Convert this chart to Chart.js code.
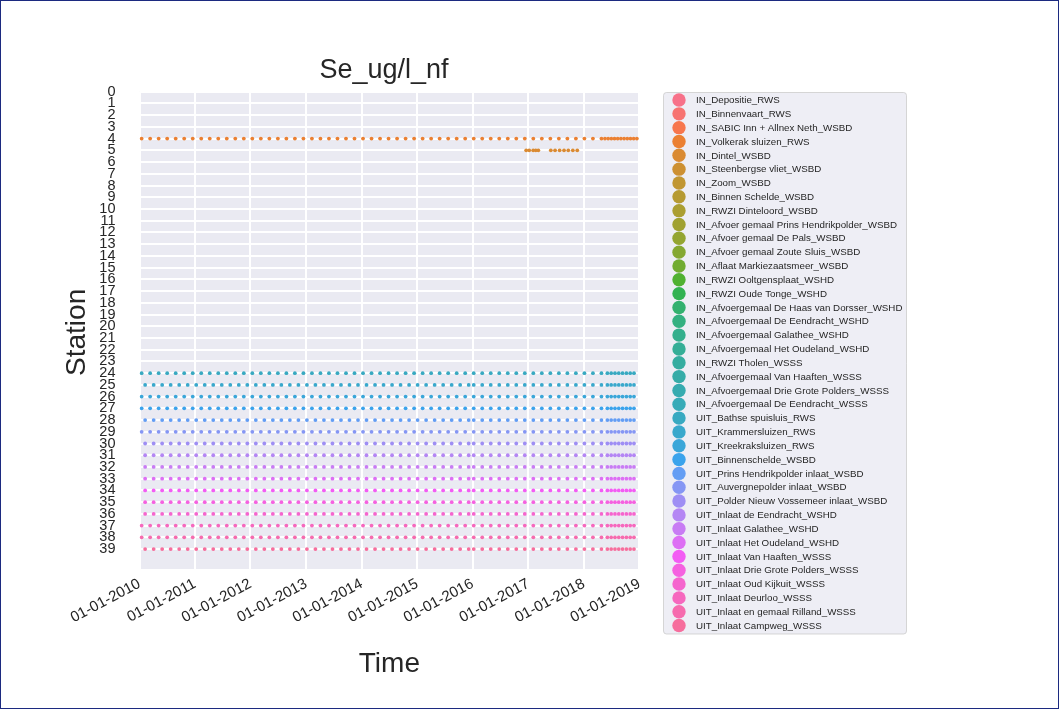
<!DOCTYPE html>
<html><head><meta charset="utf-8">
<script src="https://cdn.jsdelivr.net/npm/chart.js@4.4.1/dist/chart.umd.min.js"></script>
<style>html,body{margin:0;padding:0;background:#fff;}canvas{display:block;}</style>
</head><body>
<canvas id="c" width="1059" height="709"></canvas>
<script>
const chartTitle = 'Se_ug/l_nf';
const xAxisTitle = 'Time';
const yAxisTitle = 'Station';

const stationNames = [
  'IN_Depositie_RWS','IN_Binnenvaart_RWS','IN_SABIC Inn + Allnex Neth_WSBD','IN_Volkerak sluizen_RWS',
  'IN_Dintel_WSBD','IN_Steenbergse vliet_WSBD','IN_Zoom_WSBD','IN_Binnen Schelde_WSBD','IN_RWZI Dinteloord_WSBD',
  'IN_Afvoer gemaal Prins Hendrikpolder_WSBD','IN_Afvoer gemaal De Pals_WSBD','IN_Afvoer gemaal Zoute Sluis_WSBD',
  'IN_Aflaat Markiezaatsmeer_WSBD','IN_RWZI Ooltgensplaat_WSHD','IN_RWZI Oude Tonge_WSHD',
  'IN_Afvoergemaal De Haas van Dorsser_WSHD','IN_Afvoergemaal De Eendracht_WSHD','IN_Afvoergemaal Galathee_WSHD',
  'IN_Afvoergemaal Het Oudeland_WSHD','IN_RWZI Tholen_WSSS','IN_Afvoergemaal Van Haaften_WSSS',
  'IN_Afvoergemaal Drie Grote Polders_WSSS','IN_Afvoergemaal De Eendracht_WSSS','UIT_Bathse spuisluis_RWS',
  'UIT_Krammersluizen_RWS','UIT_Kreekraksluizen_RWS','UIT_Binnenschelde_WSBD','UIT_Prins Hendrikpolder inlaat_WSBD',
  'UIT_Auvergnepolder inlaat_WSBD','UIT_Polder Nieuw Vossemeer inlaat_WSBD','UIT_Inlaat de Eendracht_WSHD',
  'UIT_Inlaat Galathee_WSHD','UIT_Inlaat Het Oudeland_WSHD','UIT_Inlaat Van Haaften_WSSS',
  'UIT_Inlaat Drie Grote Polders_WSSS','UIT_Inlaat Oud Kijkuit_WSSS','UIT_Inlaat Deurloo_WSSS',
  'UIT_Inlaat en gemaal Rilland_WSSS','UIT_Inlaat Campweg_WSSS'
];
// y position (station number) of each named station
const stationNumbers = [1,2,3,4,5,6,7,8,9,10,11,12,13,14,15,16,17,18,19,20,21,22,23,24,25,26,27,28,29,30,31,32,33,34,35,36,37,38,39];

const yTickLabels = ['0','1','2','3','4','5','6','7','8','9','10','11','12','13','14','15','16','17','18','19',
  '20','21','22','23','24','25','26','27','28','29','30','31','32','33','34','35','36','37','38','39'];
const xTickDates = ['2010-01-01','2011-01-01','2012-01-01','2013-01-01','2014-01-01','2015-01-01',
  '2016-01-01','2017-01-01','2018-01-01','2019-01-01'];

// sampling dates
const datesA_2010_2015 = ['2010-01-15','2010-03-12','2010-05-07','2010-07-02','2010-08-27','2010-10-22','2010-12-17',
  '2011-02-11','2011-04-08','2011-06-03','2011-07-29','2011-09-23','2011-11-18','2012-01-13','2012-03-09',
  '2012-05-04','2012-06-29','2012-08-24','2012-10-19','2012-12-14','2013-02-08','2013-04-05','2013-05-31',
  '2013-07-26','2013-09-20','2013-11-15','2014-01-10','2014-03-07','2014-05-02','2014-06-27','2014-08-22',
  '2014-10-17','2014-12-12','2015-02-06','2015-04-03','2015-05-29','2015-07-24','2015-09-18','2015-11-13'];
const datesB_2010_2015 = ['2010-02-07','2010-04-04','2010-05-30','2010-07-25','2010-09-19','2010-11-14','2011-01-09',
  '2011-03-06','2011-05-01','2011-06-26','2011-08-21','2011-10-16','2011-12-11','2012-02-05','2012-04-01',
  '2012-05-27','2012-07-22','2012-09-16','2012-11-11','2013-01-06','2013-03-03','2013-04-28','2013-06-23',
  '2013-08-18','2013-10-13','2013-12-08','2014-02-02','2014-03-30','2014-05-25','2014-07-20','2014-09-14',
  '2014-11-09','2015-01-04','2015-03-01','2015-04-26','2015-06-21','2015-08-16','2015-10-11','2015-12-06'];
const dates_2016_2018 = ['2016-01-08','2016-03-04','2016-04-29','2016-06-24','2016-08-19','2016-10-14','2016-12-09',
  '2017-02-03','2017-03-31','2017-05-26','2017-07-21','2017-09-15','2017-11-10','2018-01-05','2018-03-02','2018-04-27'];
const datesLate2018 = ['2018-06-05','2018-06-30','2018-07-25','2018-08-19','2018-09-13','2018-10-08','2018-11-02','2018-11-27'];
const station4Late2018 = ['2018-05-20','2018-06-10','2018-07-01','2018-07-22','2018-08-12','2018-09-02',
  '2018-09-23','2018-10-14','2018-11-04','2018-11-25','2018-12-16'];
const station5Dates = ['2016-12-18','2017-01-07','2017-02-02','2017-02-19','2017-03-08','2017-05-29','2017-06-26',
  '2017-07-26','2017-08-24','2017-09-21','2017-10-21','2017-11-19'];

const station4Dates = datesA_2010_2015.concat(dates_2016_2018, station4Late2018);
const groupADates = datesA_2010_2015.concat(dates_2016_2018, datesLate2018);
const groupBDates = datesB_2010_2015.concat(dates_2016_2018, datesLate2018);
const groupAStations = [24,26,27,29,37,38];
const groupBStations = [25,28,30,31,32,33,34,35,36,39];

// ---------- seaborn husl palette ----------
function huslToRgb(H, S, L) {
  const m = [[3.2406,-1.5372,-0.4986],[-0.9689,1.8758,0.0415],[0.0557,-0.2040,1.0570]];
  const refU = 0.19784, refV = 0.46834;
  const hrad = H * Math.PI / 180, sinH = Math.sin(hrad), cosH = Math.cos(hrad);
  const sub1 = Math.pow(L + 16, 3) / 1560896;
  const sub2 = sub1 > 0.008856 ? sub1 : L / 903.3;
  let mx = Infinity;
  for (const [m1, m2, m3] of m) {
    const top = (0.99915*m1 + 1.05122*m2 + 1.14460*m3) * sub2;
    const rb = 0.86330*m3 - 0.17266*m2, lb = 0.12949*m3 - 0.38848*m1;
    const bottom = (rb*sinH + lb*cosH) * sub2;
    for (const t of [0, 1]) {
      const C = L * (top - 1.05122*t) / (bottom + 0.17266*sinH*t);
      if (C > 0 && C < mx) mx = C;
    }
  }
  const C = mx / 100 * S;
  const U = Math.cos(hrad) * C, V = Math.sin(hrad) * C;
  const t = (L + 16) / 116;
  const Y = Math.pow(t, 3) > 0.008856 ? Math.pow(t, 3) : (116*t - 16) / 903.3;
  const vU = U / (13*L) + refU, vV = V / (13*L) + refV;
  const X = -(9*Y*vU) / ((vU - 4)*vV - vU*vV);
  const Z = (9*Y - 15*vV*Y - vV*X) / (3*vV);
  return m.map(r => {
    let c = r[0]*X + r[1]*Y + r[2]*Z;
    c = c <= 0.0031308 ? 12.92*c : 1.055*Math.pow(c, 1/2.4) - 0.055;
    return Math.round(Math.min(1, Math.max(0, c)) * 255);
  });
}
function huslPalette(n) {
  const out = [];
  for (let i = 0; i < n; i++) {
    const h = ((i / n + 0.01) % 1) * 359;
    const [r, g, b] = huslToRgb(h, 0.9*99, 0.65*99);
    out.push(`rgb(${r},${g},${b})`);
  }
  return out;
}
const colors = huslPalette(stationNames.length);

const toMs = d => { const [y, m, dd] = d.split('-').map(Number); return Date.UTC(y, m - 1, dd); };

function datesFor(station) {
  if (station === 4) return station4Dates;
  if (station === 5) return station5Dates;
  if (groupAStations.includes(station)) return groupADates;
  if (groupBStations.includes(station)) return groupBDates;
  return [];
}

const datasets = stationNames.map((name, i) => ({
  label: name,
  data: datesFor(stationNumbers[i]).map(d => ({ x: toMs(d), y: stationNumbers[i] })),
  backgroundColor: colors[i],
  borderColor: colors[i],
  pointRadius: 1.9,
  pointBorderWidth: 0,
  pointHoverRadius: 1.9
}));

const FONT = '"Liberation Sans", Arial, sans-serif';
const TXT = '#262626';

const decorPlugin = {
  id: 'decor',
  beforeDraw(chart) {
    const { ctx, chartArea: a } = chart;
    ctx.save();
    ctx.fillStyle = '#ffffff';
    ctx.fillRect(0, 0, chart.width, chart.height);
    ctx.fillStyle = '#eaeaf2';
    ctx.fillRect(a.left, a.top, a.right - a.left, a.bottom - a.top);
    ctx.restore();
  },
  afterDraw(chart) {
    const { ctx, chartArea: a } = chart;
    ctx.save();
    ctx.fillStyle = TXT;
    ctx.textAlign = 'center';
    ctx.textBaseline = 'alphabetic';
    ctx.font = `27px ${FONT}`;
    ctx.fillText(chartTitle, 384, 78);
    ctx.font = `28px ${FONT}`;
    ctx.fillText(xAxisTitle, (a.left + a.right) / 2, 672);
    ctx.save();
    ctx.translate(85, (a.top + a.bottom) / 2 + 2);
    ctx.rotate(-Math.PI / 2);
    ctx.fillText(yAxisTitle, 0, 0);
    ctx.restore();

    // legend
    const lx = 663.5, ly = 92.5, lw = 243, lh = 541.5, r = 3;
    ctx.beginPath();
    ctx.moveTo(lx + r, ly);
    ctx.arcTo(lx + lw, ly, lx + lw, ly + lh, r);
    ctx.arcTo(lx + lw, ly + lh, lx, ly + lh, r);
    ctx.arcTo(lx, ly + lh, lx, ly, r);
    ctx.arcTo(lx, ly, lx + lw, ly, r);
    ctx.closePath();
    ctx.fillStyle = 'rgba(234,234,242,0.8)';
    ctx.fill();
    ctx.strokeStyle = 'rgba(204,204,204,0.8)';
    ctx.lineWidth = 1;
    ctx.stroke();
    ctx.font = `9.75px ${FONT}`;
    ctx.textAlign = 'left';
    ctx.textBaseline = 'middle';
    chart.data.datasets.forEach((ds, i) => {
      const cy = 100 + i * 13.83;
      ctx.beginPath();
      ctx.arc(679, cy, 6.7, 0, Math.PI * 2);
      ctx.fillStyle = ds.backgroundColor;
      ctx.fill();
      ctx.fillStyle = TXT;
      ctx.fillText(ds.label, 696, cy + 0.5);
    });

    // outer frame
    ctx.strokeStyle = '#1c2a80';
    ctx.lineWidth = 1;
    ctx.strokeRect(0.5, 0.5, chart.width - 1, chart.height - 1);
    ctx.restore();
  }
};

Chart.defaults.font.family = FONT;
Chart.defaults.color = TXT;

new Chart(document.getElementById('c'), {
  type: 'scatter',
  data: { datasets },
  options: {
    responsive: false,
    animation: false,
    devicePixelRatio: 1,
    events: [],
    layout: { padding: { left: 0, top: 91.7, right: 419.7, bottom: 0 } },
    plugins: { legend: { display: false }, tooltip: { enabled: false }, title: { display: false } },
    scales: {
      x: {
        type: 'linear',
        min: toMs(xTickDates[0]),
        max: toMs(xTickDates[xTickDates.length - 1]),
        afterBuildTicks: s => { s.ticks = xTickDates.map(d => ({ value: toMs(d) })); },
        afterFit: s => { s.height = 140; },
        grid: { color: '#ffffff', lineWidth: 2, drawTicks: false },
        border: { display: false },
        ticks: {
          autoSkip: false, minRotation: 28, maxRotation: 28, padding: 6,
          font: { size: 15 }, color: TXT,
          callback: (v) => { const d = new Date(v); const p = n => String(n).padStart(2, '0');
            return `${p(d.getUTCDate())}-${p(d.getUTCMonth() + 1)}-${d.getUTCFullYear()}`; }
        }
      },
      y: {
        type: 'linear',
        reverse: true,
        min: 0,
        max: 40.7,
        afterBuildTicks: s => { s.ticks = yTickLabels.map((l, i) => ({ value: i })); },
        afterFit: s => { s.width = 139.5; },
        grid: { color: '#ffffff', lineWidth: 2, drawTicks: false },
        border: { display: false },
        ticks: { autoSkip: false, padding: 24, font: { size: 14.5 }, color: TXT,
          callback: (v, i) => yTickLabels[i] }
      }
    }
  },
  plugins: [decorPlugin]
});
</script>
</body></html>
